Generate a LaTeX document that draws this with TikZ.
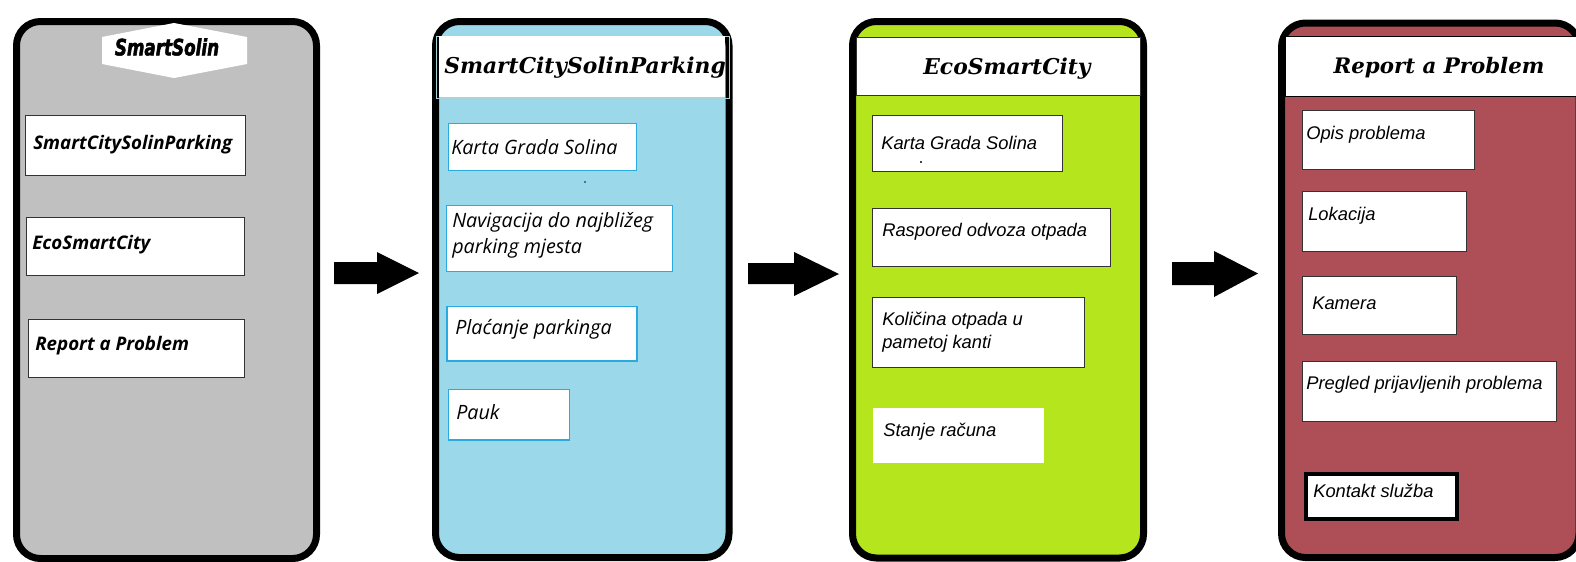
\documentclass[tikz,border=0pt]{standalone}
\usepackage{fontspec}
\setmainfont{Liberation Sans}
\newfontfamily\ttlfont{DejaVu Serif}
\newfontfamily\opensans{Open Sans}
\newfontfamily\heavyfont[BoldItalicFeatures={FakeBold=2,FakeStretch=0.74}]{DejaVu Sans}
\definecolor{pgrey}{HTML}{C0C0C0}
\definecolor{pblue}{HTML}{9AD8EA}
\definecolor{pgreen}{HTML}{B5E61D}
\definecolor{pred}{HTML}{AE4F57}
\definecolor{bblue}{HTML}{29ABE2}
\definecolor{bdark}{HTML}{333333}
\definecolor{hline}{HTML}{A9D3DC}
\tikzset{
  x=0.75pt,y=-0.75pt,
  panel/.style={line width=5.25pt,draw=black,rounded corners=18pt},
  itembox/.style={draw=bdark,fill=white,line width=0.75pt},
  bluebox/.style={draw=bblue,fill=white,line width=1pt},
  plainbox/.style={fill=white},
  thickbox/.style={draw=black,fill=white,line width=3pt},
  boldlabel/.style={anchor=west,inner sep=0pt,font=\opensans\bfseries\itshape\fontsize{14.05}{17}\selectfont},
  bluelabel/.style={anchor=west,inner sep=0pt,align=left,font=\opensans\itshape\fontsize{14.8}{19.5}\selectfont},
  arlabel/.style={anchor=west,inner sep=0pt,align=left,font=\itshape\fontsize{13.75}{17.5}\selectfont},
  ttl/.style={anchor=west,inner sep=0pt,font=\ttlfont\bfseries\itshape\fontsize{16.35}{18}\selectfont},
}
\newcommand{\bigarr}[8]{\fill[black] (#1,#2) -- (#3,#2) -- (#3,#4) -- (#5,#6) -- (#3,#7) -- (#3,#8) -- (#1,#8) -- cycle;}
\begin{document}
\begin{tikzpicture}
\useasboundingbox (0,0) rectangle (1576,561);
\begin{scope}
\clip (0,0) rectangle (1576,561);
% panel 1
\path[panel,fill=pgrey] (16.5,21.5) rectangle (316.5,558.5);
\fill[white] (174,23) -- (247,37) -- (247,64) -- (174,78) -- (102,64) -- (102,37) -- cycle;
\node[anchor=center,inner sep=0pt,font=\heavyfont\bfseries\itshape\fontsize{17}{19}\selectfont] (t1) at (167,47) {SmartSolin};
\node[itembox,minimum width=165pt,minimum height=45pt,inner sep=0pt] (a1) at (135,145) {};
\node[itembox,minimum width=164pt,minimum height=44pt,inner sep=0pt] (a2) at (135.5,246.5) {};
\node[itembox,minimum width=162pt,minimum height=44pt,inner sep=0pt] (a3) at (136,348.5) {};
\node[boldlabel] at (33,145) {SmartCitySolinParking};
\node[boldlabel] at (32,245) {EcoSmartCity};
\node[boldlabel] at (35,346) {Report a Problem};
% arrow 1
\bigarr{334}{262}{377}{252}{419}{273}{294}{284}
% panel 2
\path[panel,fill=pblue] (435.5,21.5) rectangle (729,557.5);
\path[draw=hline,line width=0.5pt] (436,36) rectangle (729,98);
\fill[white] (439,36) rectangle (725,97);
\node[ttl] at (444,68) {SmartCitySolinParking};
\node[bluebox,minimum width=141pt,minimum height=35.5pt,inner sep=0pt] (b1) at (542.5,147) {};
\node[bluebox,minimum width=169.5pt,minimum height=49.5pt,inner sep=0pt] (b2) at (559.5,238.5) {};
\node[bluebox,minimum width=142.5pt,minimum height=41pt,inner sep=0pt] (b3) at (542,333.5) {};
\node[bluebox,minimum width=91pt,minimum height=38pt,inner sep=0pt] (b4) at (509,414.5) {};
\fill[black!70] (585,182) circle (1.2);
\node[bluelabel] at (451,147) {Karta Grada Solina};
\node[bluelabel] at (452,235) {Navigacija do najbližeg\\parking mjesta};
\node[bluelabel] at (455,329) {Plaćanje parkinga};
\node[bluelabel] at (456,412) {Pauk};
% arrow 2
\bigarr{748}{263}{794}{252}{839}{274}{296}{284}
% panel 3
\path[panel,fill=pgreen] (852.5,21.5) rectangle (1143.5,558);
\path[fill=white,draw=bdark,line width=0.75pt] (856,37) rectangle (1140,95);
\node[ttl,anchor=center] at (1007,69) {EcoSmartCity};
\node[itembox,minimum width=142.5pt,minimum height=42pt,inner sep=0pt] (c1) at (967,143) {};
\node[itembox,minimum width=178.5pt,minimum height=43.5pt,inner sep=0pt] (c2) at (991,237) {};
\node[itembox,minimum width=159pt,minimum height=52.5pt,inner sep=0pt] (c3) at (978,332) {};
\node[plainbox,minimum width=128pt,minimum height=41pt,inner sep=0pt] (c4) at (958.5,435.5) {};
\fill[black] (921,162) circle (1.2);
\node[arlabel] at (881,143) {Karta Grada Solina};
\node[arlabel] at (882,232) {Raspored odvoza otpada};
\node[arlabel] at (882,332) {Količina otpada u\\pametoj kanti};
\node[arlabel] at (883,432) {Stanje računa};
% arrow 3
\bigarr{1172}{262}{1214}{251}{1258}{273.5}{297}{285}
% panel 4
\path[panel,fill=pred] (1281.5,23) rectangle (1579,557.5);
\path[fill=white,draw=black,line width=0.75pt] (1285,36) rectangle (1580,96);
\node[ttl,anchor=center,font=\ttlfont\bfseries\itshape\fontsize{16}{18}\selectfont] at (1439,68) {Report a Problem};
\node[itembox,minimum width=129pt,minimum height=44pt,inner sep=0pt] (d1) at (1388,140) {};
\node[itembox,minimum width=123pt,minimum height=45pt,inner sep=0pt] (d2) at (1384,221) {};
\node[itembox,minimum width=115.5pt,minimum height=44pt,inner sep=0pt] (d3) at (1379,305.5) {};
\node[itembox,minimum width=190.5pt,minimum height=45pt,inner sep=0pt] (d4) at (1429,391) {};
\node[thickbox,minimum width=113pt,minimum height=34pt,inner sep=0pt] (d5) at (1381.5,496.5) {};
\node[arlabel] at (1306,135) {Opis problema};
\node[arlabel] at (1308,216) {Lokacija};
\node[arlabel] at (1312,303) {Kamera};
\node[arlabel] at (1306,385) {Pregled prijavljenih problema};
\node[arlabel] at (1313,491) {Kontakt služba};
\end{scope}
\end{tikzpicture}
\end{document}
